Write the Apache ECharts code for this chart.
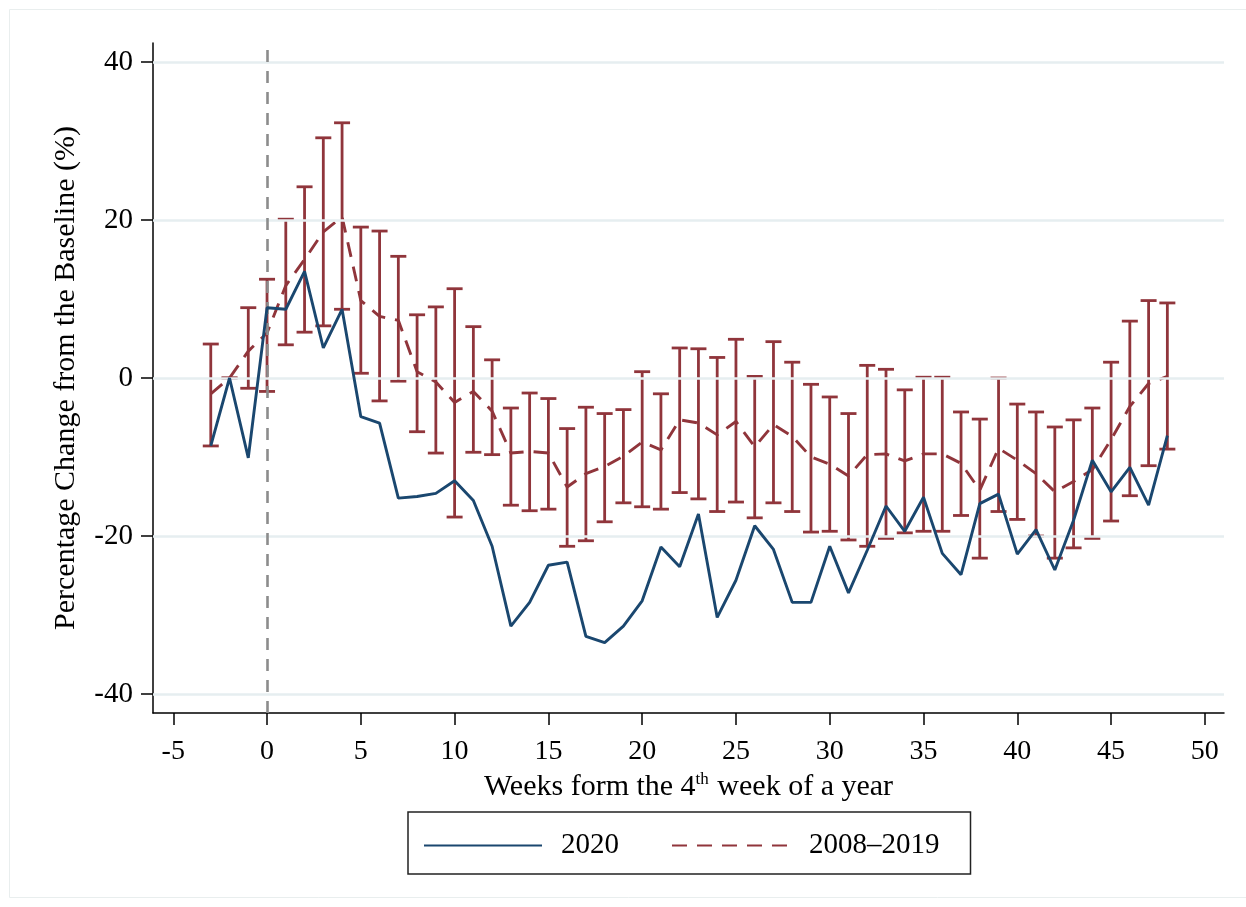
<!DOCTYPE html>
<html>
<head>
<meta charset="utf-8">
<script src="https://cdn.jsdelivr.net/npm/echarts@6/dist/echarts.min.js"></script>
<style>
  html, body { margin: 0; padding: 0; background: #fff; }
  #chart { width: 1246px; height: 907px; }
</style>
</head>
<body>
<div id="chart"></div>
<script>
// ---- data ----
const weeks = [-3,-2,-1,0,1,2,3,4,5,6,7,8,9,10,11,12,13,14,15,16,17,18,19,20,21,22,23,24,25,26,27,28,29,30,31,32,33,34,35,36,37,38,39,40,41,42,43,44,45,46,47,48];
const y2020 = [-8.6,0,-10.1,8.9,8.7,13.5,3.8,8.7,-4.9,-5.7,-15.2,-15.0,-14.6,-13.0,-15.5,-21.3,-31.4,-28.4,-23.7,-23.3,-32.7,-33.5,-31.4,-28.2,-21.4,-23.9,-17.2,-30.3,-25.6,-18.7,-21.7,-28.4,-28.4,-21.3,-27.2,-21.8,-16.2,-19.4,-15.1,-22.2,-24.9,-15.9,-14.7,-22.3,-19.2,-24.3,-18.0,-10.4,-14.4,-11.3,-16.1,-7.3];
const meanPast = [-2.0,0,3.4,5.7,11.7,15.0,18.5,20.4,9.8,7.8,7.3,0.8,-0.5,-3.1,-1.7,-4.2,-9.5,-9.3,-9.5,-13.8,-12.1,-11.2,-9.9,-8.1,-9.1,-5.3,-5.7,-7.2,-5.5,-8.7,-5.9,-7.4,-10.0,-10.9,-12.4,-9.7,-9.6,-10.5,-9.6,-9.6,-10.8,-14.2,-8.9,-10.4,-12.1,-14.4,-13.1,-11.6,-7.8,-3.6,-0.7,0.2];
const upperPast = [4.3,0,8.9,12.5,20.1,24.2,30.4,32.3,19.1,18.6,15.4,8.0,9.0,11.3,6.5,2.3,-3.8,-1.9,-2.6,-6.4,-3.7,-4.5,-4.0,0.8,-2.0,3.8,3.7,2.6,4.9,0.2,4.6,2.0,-0.8,-2.4,-4.5,1.6,1.1,-1.5,0.1,0.1,-4.3,-5.2,0.0,-3.3,-4.3,-6.2,-5.3,-3.8,2.0,7.2,9.8,9.5];
const lowerPast = [-8.6,0,-1.3,-1.7,4.2,5.8,6.6,8.7,0.6,-2.9,-0.4,-6.8,-9.5,-17.6,-9.4,-9.7,-16.1,-16.8,-16.6,-21.3,-20.6,-18.2,-15.8,-16.3,-16.6,-14.5,-15.3,-16.9,-15.7,-17.7,-15.8,-16.9,-19.5,-19.4,-20.5,-21.3,-20.3,-19.6,-19.4,-19.4,-17.4,-22.8,-16.9,-17.9,-20.0,-22.8,-21.5,-20.3,-18.1,-14.9,-11.1,-9.0];
const xTicks = [-5,0,5,10,15,20,25,30,35,40,45,50];
const yTicks = [-40,-20,0,20,40];
const seriesNames = ['2020', '2008\u20132019'];
const refWeek = 0;

// ---- styling ----
const FONT = 'Liberation Serif';
const BLUE = '#1a476f';
const RED = '#90353b';
const GRID = '#e6eef0';

const chart = echarts.init(document.getElementById('chart'), null, {renderer: 'canvas'});

const pairs = (ys) => weeks.map((w, i) => [w, ys[i]]);
const ciData = weeks.map((w, i) => [w, lowerPast[i], upperPast[i]]);

const option = {
  animation: false,
  backgroundColor: '#fff',
  graphic: [{
    type: 'rect', silent: true, z: -10,
    shape: {x: 9.5, y: 9.5, width: 1240, height: 888},
    style: {fill: '#fff', stroke: '#e9eeee', lineWidth: 1}
  }],
  grid: {left: 153, right: 22, top: 43, bottom: 194, containLabel: false},
  legend: {
    data: seriesNames,
    left: 408, top: 812,
    orient: 'horizontal',
    itemWidth: 118, itemHeight: 14, itemGap: 52,
    padding: [19, 31, 14, 15],
    borderColor: '#222', borderWidth: 1.5, borderRadius: 0,
    itemStyle: {opacity: 0},
    textStyle: {fontFamily: FONT, fontSize: 29, color: '#000', padding: [0, 0, 0, 14]}
  },
  xAxis: {
    type: 'value', min: -6.08, max: 51.02,
    axisLine: {show: true, onZero: false, lineStyle: {color: '#000', width: 1.5}},
    axisTick: {show: true, length: 12, customValues: xTicks, lineStyle: {color: '#000', width: 1.5}},
    axisLabel: {customValues: xTicks, fontFamily: FONT, fontSize: 28, color: '#000', margin: 25},
    splitLine: {show: false},
    name: '{n|Weeks form the 4}{s|th}{n| week of a year}',
    nameLocation: 'middle', nameGap: 56,
    nameTextStyle: {
      rich: {
        n: {fontFamily: FONT, fontSize: 30, color: '#000', lineHeight: 32},
        s: {fontFamily: FONT, fontSize: 17, color: '#000', verticalAlign: 'top', lineHeight: 32, padding: [0, 1, 10, 0]}
      }
    }
  },
  yAxis: {
    type: 'value', min: -42.4, max: 42.4,
    axisLine: {show: true, onZero: false, lineStyle: {color: '#000', width: 1.5}},
    axisTick: {show: true, length: 12, customValues: yTicks, lineStyle: {color: '#000', width: 1.5}},
    axisLabel: {customValues: yTicks, fontFamily: FONT, fontSize: 29, color: '#000', margin: 20},
    splitLine: {show: false},
    name: 'Percentage Change from the Baseline (%)',
    nameLocation: 'middle', nameGap: 72,
    nameTextStyle: {fontFamily: FONT, fontSize: 30, color: '#000'}
  },
  series: [
    {
      name: 'guides', type: 'line', data: [], z: 1, silent: true,
      markLine: {
        silent: true, symbol: 'none', label: {show: false}, animation: false,
        data: yTicks.map(v => ({yAxis: v, lineStyle: {color: GRID, width: 2.5, type: 'solid'}}))
          .concat([{xAxis: refWeek, lineStyle: {color: '#8c8c8c', width: 2.6, type: [12, 9]}}])
      }
    },
    {
      name: 'ci', type: 'custom', z: 3, silent: true,
      data: ciData,
      encode: {x: 0, y: [1, 2]},
      renderItem: function (params, api) {
        const x = api.value(0);
        const lo = api.coord([x, api.value(1)]);
        const hi = api.coord([x, api.value(2)]);
        const hw = 8;
        const st = {stroke: RED, lineWidth: 2.8, fill: null};
        return {
          type: 'group',
          children: [
            {type: 'line', shape: {x1: hi[0], y1: hi[1], x2: lo[0], y2: lo[1]}, style: st},
            {type: 'line', shape: {x1: hi[0] - hw, y1: hi[1], x2: hi[0] + hw, y2: hi[1]}, style: st},
            {type: 'line', shape: {x1: lo[0] - hw, y1: lo[1], x2: lo[0] + hw, y2: lo[1]}, style: st}
          ]
        };
      }
    },
    {
      name: seriesNames[1], type: 'line', z: 4, data: pairs(meanPast),
      symbol: 'none', showSymbol: false,
      lineStyle: {color: RED, width: 2.9, type: [15, 10]},
      itemStyle: {color: RED}
    },
    {
      name: seriesNames[0], type: 'line', z: 5, data: pairs(y2020),
      symbol: 'none', showSymbol: false,
      lineStyle: {color: BLUE, width: 2.9, type: 'solid'},
      itemStyle: {color: BLUE}
    }
  ]
};
chart.setOption(option);
</script>
</body>
</html>
